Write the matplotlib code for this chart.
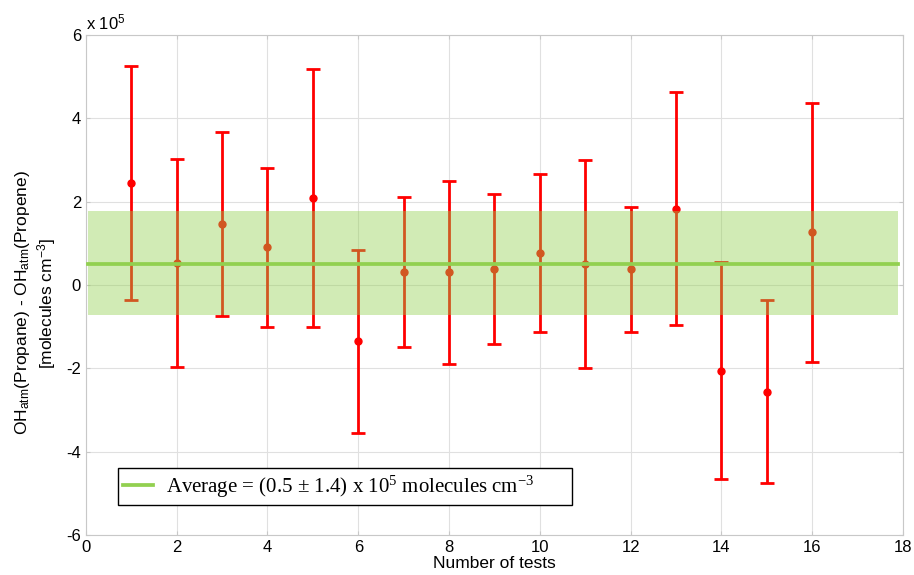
import numpy as np
import matplotlib.pyplot as plt

# differences in units of 1e5 molecules cm-3
tests = np.arange(1, 17)
diff = [2.45, 0.53, 1.46, 0.90, 2.09, -1.35, 0.31, 0.30,
        0.38, 0.77, 0.51, 0.38, 1.83, -2.06, -2.56, 1.26]
err = [2.8, 2.5, 2.2, 1.9, 3.1, 2.2, 1.8, 2.2,
       1.8, 1.9, 2.5, 1.5, 2.8, 2.6, 2.2, 3.1]
avg = 0.51
band_lo, band_hi = -0.72, 1.77
band_x = [0.05, 17.9]

plt.rcParams['font.family'] = ['Liberation Sans', 'DejaVu Sans']
plt.rcParams['axes.unicode_minus'] = False

fig = plt.figure(figsize=(9.14, 5.75), dpi=100)
ax = fig.add_axes([0.094, 0.0696, 0.894, 0.8696])

ax.errorbar(tests, diff, yerr=err, fmt='o', color='#ff0000', ms=5,
            elinewidth=2, capsize=5, capthick=2, zorder=2)
ax.fill_between(band_x, band_lo, band_hi, color='#92d050', alpha=0.42,
                lw=0, zorder=3)
# trailing spaces widen the legend box like the original
ax.plot(band_x, [avg, avg], color='#92d050', lw=2.7, zorder=4,
        label='Average = (0.5 ± 1.4) x 10$\\mathregular{^5}$ molecules cm$\\mathregular{^{-3}}$       ')

ax.set_xlim(0, 18)
ax.set_ylim(-6, 6)
ax.set_xticks(range(0, 19, 2))
ax.set_yticks(range(-6, 7, 2))
ax.grid(True, color='#e0e0e0', lw=0.8)
ax.set_axisbelow(True)
for s in ax.spines.values():
    s.set_color('#c8c8c8')
ax.tick_params(direction='in', length=3, color='#c8c8c8', labelsize=12,
               labelcolor='black', right=True, top=True)

ax.set_xlabel('Number of tests', fontsize=12.5, labelpad=1)
ax.set_ylabel('OH$\\mathregular{_{atm}}$(Propane) - OH$\\mathregular{_{atm}}$(Propene)\n[molecules cm$\\mathregular{^{-3}}$]',
              fontsize=12.5)
ax.yaxis.set_label_coords(-0.034, 0.464)
ax.text(0.0, 1.005, 'x 10$\\mathregular{^5}$', transform=ax.transAxes, fontsize=12,
        ha='left', va='bottom')

leg = ax.legend(loc='lower left', bbox_to_anchor=(0.039, 0.06),
                borderaxespad=0,
                prop={'family': 'Liberation Serif', 'size': 15},
                fancybox=False, framealpha=1, edgecolor='black',
                handlelength=1.45, borderpad=0.25, handletextpad=0.6)
leg.get_frame().set_linewidth(1.0)

plt.savefig('out.png', dpi=100)
